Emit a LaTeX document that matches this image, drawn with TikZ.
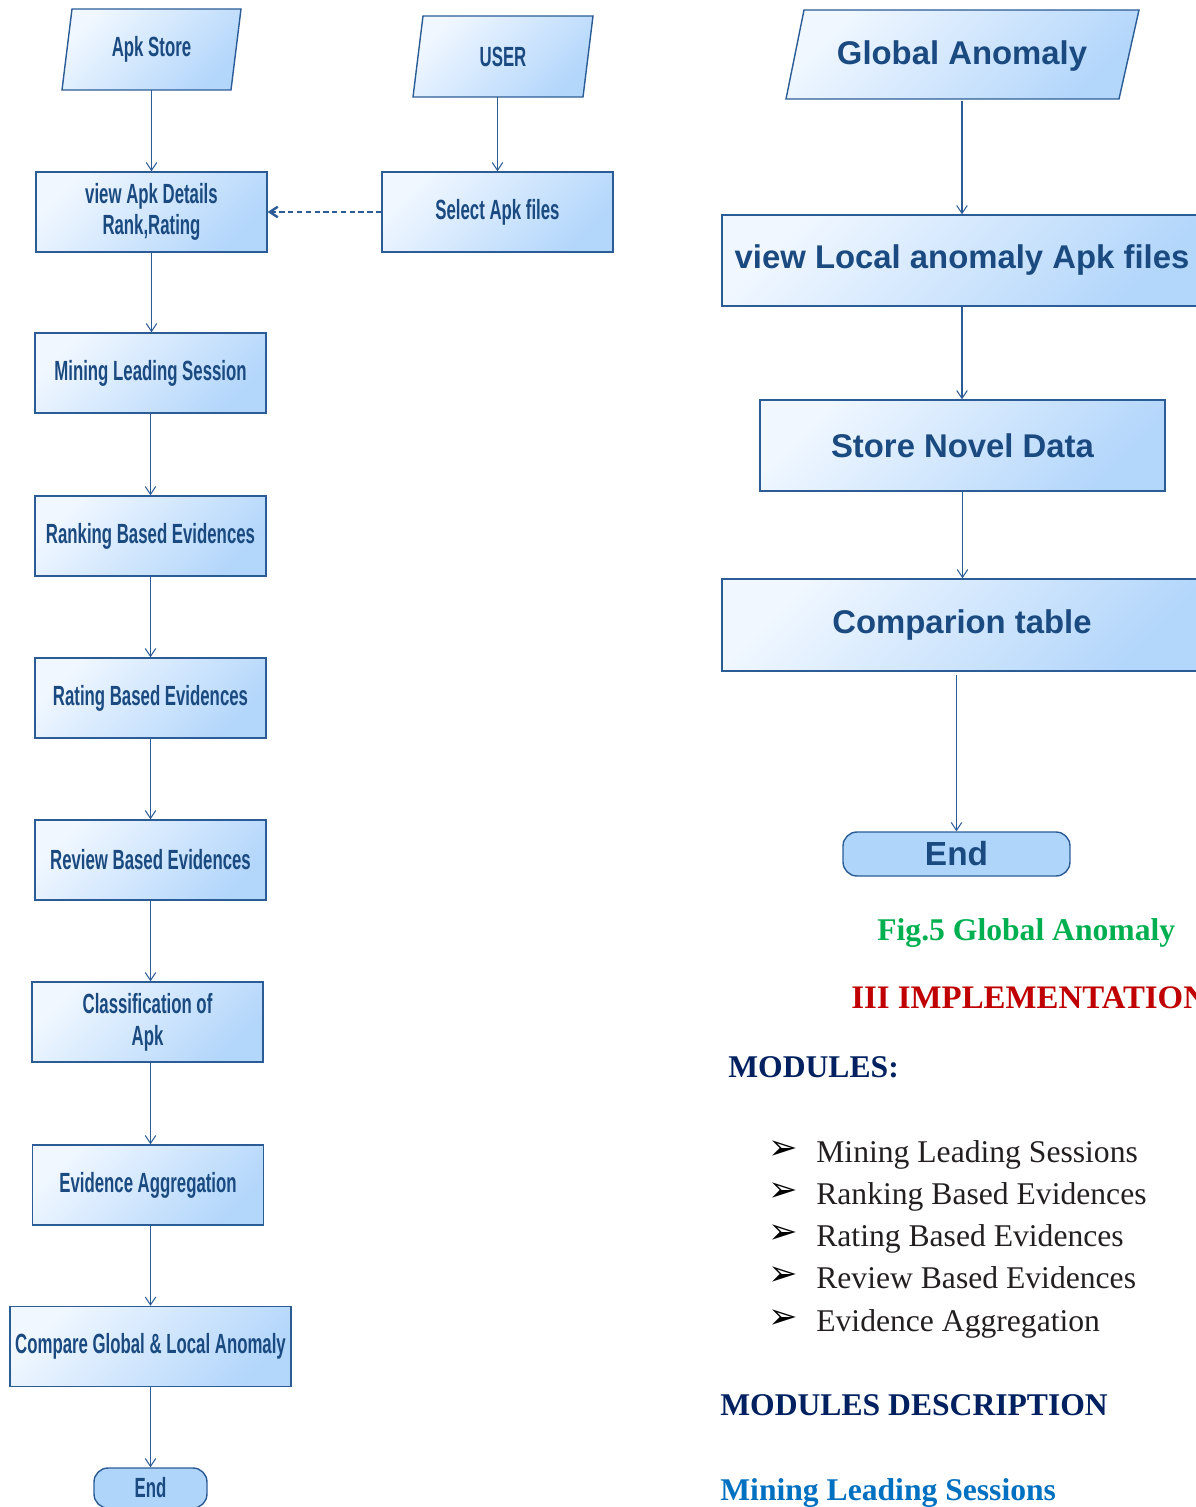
\documentclass[tikz,border=0pt]{standalone}
\usepackage{fontspec}
\setmainfont{Liberation Serif}
\newfontfamily\nf{Liberation Sans}[FakeStretch=0.605]
\newfontfamily\wf{Liberation Sans}
\newfontfamily\dv{DejaVu Sans}
\usetikzlibrary{arrows.meta,calc}
\definecolor{bord}{HTML}{2B5C96}
\definecolor{txtb}{HTML}{1A4A80}
\definecolor{fillA}{HTML}{F0F7FF}
\definecolor{fillB}{HTML}{B3D6FB}
\definecolor{endfill}{HTML}{B0D5FB}
\definecolor{figgreen}{HTML}{00B050}
\definecolor{implred}{HTML}{C00000}
\definecolor{navy}{HTML}{002060}
\definecolor{lblue}{HTML}{0070C0}
\definecolor{listgray}{HTML}{231F20}
\begin{document}
\begin{tikzpicture}[x=0.02cm,y=-0.02cm,
  shadefill/.style={draw=bord, line width=0.8pt, top color=fillA, bottom color=fillB, shading angle=45},
  flowbox/.style={shadefill, text=txtb, align=center, inner sep=0pt},
  lfont/.style={font=\nf\bfseries\fontsize{15.8}{18}\selectfont},
  lbox/.style={flowbox, lfont, minimum width=4.62cm, minimum height=1.6cm},
  rbox/.style={flowbox, minimum height=1.82cm, font=\wf\bfseries\fontsize{18.7}{22}\selectfont},
  ltext/.style={text=txtb, align=center, inner sep=0pt, lfont},
  rtext/.style={text=txtb, align=center, inner sep=0pt, font=\wf\bfseries\fontsize{18.7}{22}\selectfont},
  term/.style={draw=bord, line width=0.8pt, fill=endfill, rounded corners=0.28cm, text=txtb, inner sep=0pt},
  arr/.style={draw=bord, line width=0.6pt, -{Straight Barb[length=4.5pt,width=6pt]}},
  dasharr/.style={arr, line width=1.4pt, dash pattern=on 3pt off 2pt},
  body/.style={anchor=base west, inner sep=0pt, font=\fontsize{18}{22}\selectfont},
  bul/.style={anchor=base west, inner sep=0pt, text=black, font=\dv\fontsize{20}{24}\selectfont}
]
\useasboundingbox (0,0) rectangle (1196,1507);
\clip (0,0) rectangle (1196,1507);

% ---------- left flowchart ----------
\path[shadefill] (72,9) -- (241,9) -- (231,90) -- (62,90) -- cycle;
\node[ltext, minimum width=3.38cm, minimum height=1.62cm] (apk) at (151.5,49.5) {Apk Store};

\path[shadefill] (423,16) -- (593,16) -- (583,97) -- (413,97) -- cycle;
\node[ltext, minimum width=3.4cm, minimum height=1.62cm] (user) at (503,56.5) {USER};

\node[lbox] (det) at (151.5,212) {view Apk Details\\Rank,Rating};
\node[lbox] (sel) at (497.5,212) {Select Apk files};
\node[lbox] (mls) at (150.5,373) {Mining Leading Session};
\node[lbox] (rank) at (150.5,536) {Ranking Based Evidences};
\node[lbox] (rate) at (150.5,698) {Rating Based Evidences};
\node[lbox] (rev) at (150.5,860) {Review Based Evidences};
\node[lbox] (cls) at (147.5,1022) {Classification of\\Apk};
\node[lbox] (agg) at (148,1185) {Evidence Aggregation};
\node[lbox, minimum width=5.62cm] (cmp) at (150.5,1346.5) {Compare Global \& Local Anomaly};
\node[term, lfont, minimum width=2.26cm, minimum height=0.8cm] (endl) at (150.5,1488) {End};

\draw[arr] (apk.south) -- (apk.south |- det.north);
\draw[arr] (sel.north |- user.south) -- (sel.north);
\draw[dasharr] (sel.west) -- (det.east);
\draw[arr] (det.south) -- (det.south |- mls.north);
\draw[arr] (mls.south) -- (mls.south |- rank.north);
\draw[arr] (rank.south) -- (rank.south |- rate.north);
\draw[arr] (rate.south) -- (rate.south |- rev.north);
\draw[arr] (rev.south) -- (rev.south |- cls.north);
\draw[arr] (cls.south -| rev.south) -- (rev.south |- agg.north);
\draw[arr] (agg.south -| rev.south) -- (rev.south |- cmp.north);
\draw[arr] (cmp.south) -- (endl.north);

% ---------- right flowchart ----------
\path[shadefill] (804,10) -- (1139,10) -- (1119,99) -- (786,99) -- cycle;
\node[rtext, minimum width=6.7cm, minimum height=1.78cm] (glob) at (962,56) {Global Anomaly};
\node[rbox, minimum width=9.6cm] (loc) at (962,260.5) {view Local anomaly Apk files};
\node[rbox, minimum width=8.1cm] (store) at (962.5,445.5) {Store Novel Data};
\node[rbox, minimum width=9.6cm, minimum height=1.84cm] (ctab) at (962,625) {Comparion table};
\node[term, minimum width=4.54cm, minimum height=0.88cm, font=\wf\bfseries\fontsize{19}{22}\selectfont] (endr) at (956.5,854) {End};

\draw[arr] (glob.south) -- (glob.south |- loc.north);
\draw[arr] (loc.south) -- (loc.south |- store.north);
\draw[arr] (store.south) -- (store.south |- ctab.north);
\draw[arr] ($(endr.north |- ctab.south)+(0,3)$) -- (endr.north);

% ---------- text ----------
\node[body, text=figgreen, font=\bfseries\fontsize{18}{22}\selectfont] (fig) at (877,940) {Fig.5 Global Anomaly};
\node[body, text=implred, font=\bfseries\fontsize{18.7}{22}\selectfont] (impl) at (851,1008) {III IMPLEMENTATION};
\node[body, text=navy, font=\bfseries\fontsize{18}{22}\selectfont] (mods) at (728,1077) {MODULES:};

\node[bul] (b1) at (768,1159) {➢};
\node[bul] (b2) at (768,1201) {➢};
\node[bul] (b3) at (768,1243) {➢};
\node[bul] (b4) at (768,1285) {➢};
\node[bul] (b5) at (768,1328) {➢};
\node[body, text=listgray] (l1) at (816,1162) {Mining Leading Sessions};
\node[body, text=listgray] (l2) at (816,1204) {Ranking Based Evidences};
\node[body, text=listgray] (l3) at (816,1246) {Rating Based Evidences};
\node[body, text=listgray] (l4) at (816,1288) {Review Based Evidences};
\node[body, text=listgray] (l5) at (816,1331) {Evidence Aggregation};

\node[body, text=navy, font=\bfseries\fontsize{18}{22}\selectfont] (desc) at (720,1415) {MODULES DESCRIPTION};
\node[body, text=lblue, font=\bfseries\fontsize{18}{22}\selectfont] (mlsh) at (720,1500) {Mining Leading Sessions};
\end{tikzpicture}
\end{document}
